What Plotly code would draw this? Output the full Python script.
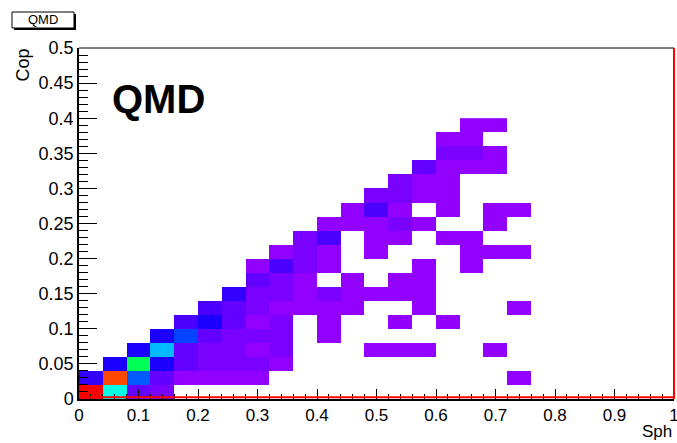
import colorsys
import plotly.graph_objects as go

# Bin edges (Sph on x, Cop on y)
x_edges = [round(0.04 * i, 2) for i in range(20)]   # 0 .. 0.76
y_edges = [round(0.02 * j, 2) for j in range(21)]   # 0 .. 0.40

_ = None
# counts per Cop bin (rows, bottom to top), columns = Sph bins 0..0.76
row_00 = [99, 37, 5, 3, _, _, _, _, _, _, _, _, _, _, _, _, _, _, _]
row_01 = [9, 93, 21, 5, 1, 1, 1, 1, _, _, _, _, _, _, _, _, _, _, 1]
row_02 = [_, 11, 49, 11, 5, 3, 3, 3, 1, _, _, _, _, _, _, _, _, _, _]
row_03 = [_, _, 11, 29, 5, 3, 3, 1, 3, _, _, _, 1, 1, 1, _, _, 1, _]
row_04 = [_, _, _, 11, 19, 5, 3, 3, 3, _, 1, _, _, _, _, _, _, _, _]
row_05 = [_, _, _, _, 7, 11, 5, 1, 3, _, 1, _, _, 1, _, 1, _, _, _]
row_06 = [_, _, _, _, _, 7, 5, 3, 1, 1, 1, 1, _, _, 1, _, _, _, 1]
row_07 = [_, _, _, _, _, _, 9, 3, 3, 1, 3, 1, 1, 1, 1, _, _, _, _]
row_08 = [_, _, _, _, _, _, _, 5, 3, 1, _, 1, _, 1, 1, _, _, _, _]
row_09 = [_, _, _, _, _, _, _, 1, 7, 3, 1, _, _, _, 1, _, 1, _, _]
row_10 = [_, _, _, _, _, _, _, _, 1, 3, 1, _, 1, _, _, _, 1, 1, 1]
row_11 = [_, _, _, _, _, _, _, _, _, 3, 7, _, 1, 1, _, 1, 1, _, _]
row_12 = [_, _, _, _, _, _, _, _, _, _, 1, 1, 1, 3, 1, _, _, 1, _]
row_13 = [_, _, _, _, _, _, _, _, _, _, _, 1, 7, 1, _, 1, _, 1, 1]
row_14 = [_, _, _, _, _, _, _, _, _, _, _, _, 3, 3, 1, 1, _, _, _]
row_15 = [_, _, _, _, _, _, _, _, _, _, _, _, _, 3, 1, 1, _, _, _]
row_16 = [_, _, _, _, _, _, _, _, _, _, _, _, _, _, 5, 1, 1, 1, _]
row_17 = [_, _, _, _, _, _, _, _, _, _, _, _, _, _, _, 3, 3, 1, _]
row_18 = [_, _, _, _, _, _, _, _, _, _, _, _, _, _, _, 1, 1, _, _]
row_19 = [_, _, _, _, _, _, _, _, _, _, _, _, _, _, _, _, 1, 1, _]

counts = [row_00, row_01, row_02, row_03, row_04, row_05, row_06, row_07,
          row_08, row_09, row_10, row_11, row_12, row_13, row_14, row_15,
          row_16, row_17, row_18, row_19]

x_tickvals = [0, 0.1, 0.2, 0.3, 0.4, 0.5, 0.6, 0.7, 0.8, 0.9, 1.0]
x_ticktext = ["0", "0.1", "0.2", "0.3", "0.4", "0.5", "0.6", "0.7", "0.8", "0.9", "1"]
y_tickvals = [0, 0.05, 0.1, 0.15, 0.2, 0.25, 0.3, 0.35, 0.4, 0.45, 0.5]
y_ticktext = ["0", "0.05", "0.1", "0.15", "0.2", "0.25", "0.3", "0.35", "0.4", "0.45", "0.5"]

# ROOT "pretty" palette: 50 colours, hue 280 -> 0 (HLS, L=0.5, S=1)
ncol = 50
palette = []
for i in range(ncol):
    hue = 280 - (i + 1) * (280.0 / ncol)
    r, g, b = colorsys.hls_to_rgb(hue / 360.0, 0.5, 1.0)
    palette.append("rgb(%d,%d,%d)" % (round(r * 255), round(g * 255), round(b * 255)))
colorscale = []
for i, c in enumerate(palette):
    colorscale.append([i / ncol, c])
    colorscale.append([(i + 1) / ncol, c])

FONT = "Liberation Sans, Arial, sans-serif"

fig = go.Figure()
fig.add_trace(go.Heatmap(
    x=x_edges, y=y_edges, z=counts,
    zmin=0, zmax=100, colorscale=colorscale, showscale=False,
    hoverinfo="skip",
))

fig.update_layout(
    width=677, height=443,
    margin=dict(l=79, r=3, t=48, b=44, autoexpand=False),
    paper_bgcolor="white", plot_bgcolor="white",
    showlegend=False,
    font=dict(family=FONT, size=18, color="black"),
    xaxis=dict(
        range=[0, 1], tickvals=x_tickvals, ticktext=x_ticktext,
        ticks="inside", ticklen=10, tickwidth=1, tickcolor="black",
        minor=dict(ticks="inside", dtick=0.02, ticklen=5, tickwidth=1, tickcolor="black"),
        showgrid=False, zeroline=False, ticklabeloverflow="allow", automargin=False,
        showline=True, linecolor="black", linewidth=1.5,
        tickfont=dict(family=FONT, size=17, color="black"),
    ),
    yaxis=dict(
        range=[0, 0.5], tickvals=y_tickvals, ticktext=y_ticktext,
        ticks="inside", ticklen=18, tickwidth=1, tickcolor="black",
        minor=dict(ticks="inside", dtick=0.01, ticklen=9, tickwidth=1, tickcolor="black"),
        showgrid=False, zeroline=False, ticklabeloverflow="allow", automargin=False,
        showline=True, linecolor="black", linewidth=1.5,
        tickfont=dict(family=FONT, size=18, color="black"),
    ),
)

# frame: top black, bottom & right red
fig.add_shape(type="line", xref="paper", yref="paper", x0=0, x1=1, y0=1, y1=1,
              line=dict(color="black", width=1))
fig.add_shape(type="line", xref="paper", yref="paper", x0=0, x1=1, y0=0.005, y1=0.005,
              line=dict(color="red", width=2))
fig.add_shape(type="line", xref="paper", yref="paper", x0=1, x1=1, y0=0, y1=1,
              line=dict(color="red", width=2))

# title box "QMD" at top-left (with shadow)
fig.add_shape(type="rect", xref="paper", yref="paper",
              x0=(14 - 79) / 595, x1=(76 - 79) / 595,
              y0=(399 - 30) / 351, y1=(399 - 14) / 351,
              line=dict(width=0), fillcolor="black")
fig.add_shape(type="rect", xref="paper", yref="paper",
              x0=(12 - 79) / 595, x1=(74 - 79) / 595,
              y0=(399 - 28) / 351, y1=(399 - 12) / 351,
              line=dict(color="black", width=1), fillcolor="white")
fig.add_annotation(text="QMD", xref="paper", yref="paper",
                   x=(43 - 79) / 595, y=(399 - 20) / 351,
                   xanchor="center", yanchor="middle",
                   showarrow=False, font=dict(family=FONT, size=13, color="black"))

# big label
fig.add_annotation(text="<b>QMD</b>", xref="paper", yref="paper",
                   x=(158 - 79) / 595, y=(399 - 99) / 351,
                   xanchor="center", yanchor="middle",
                   showarrow=False, font=dict(family=FONT, size=40, color="black"))

# axis titles
fig.add_annotation(text="Cop", xref="paper", yref="paper",
                   x=(22 - 79) / 595, y=(399 - 46) / 351,
                   xanchor="center", yanchor="top",
                   textangle=-90, showarrow=False,
                   font=dict(family=FONT, size=18, color="black"))
fig.add_annotation(text="Sph", xref="paper", yref="paper",
                   x=(640 - 79) / 595, y=(399 - 443) / 351,
                   xanchor="left", yanchor="bottom", showarrow=False,
                   font=dict(family=FONT, size=17, color="black"))

fig.write_html("out.html")
